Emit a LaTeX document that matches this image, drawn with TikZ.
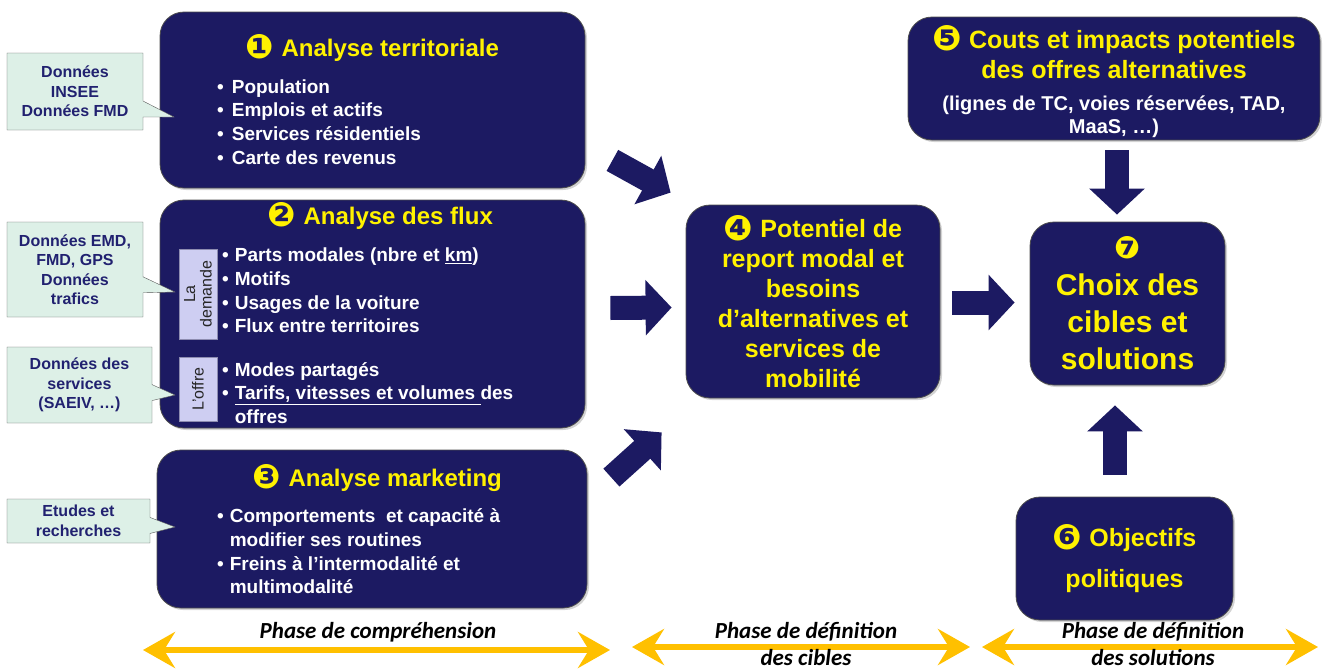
\documentclass[tikz,border=0pt]{standalone}
\usepackage{fontspec}
\setmainfont{Liberation Sans}
\newfontfamily\phasefont{Carlito}
\newfontfamily\dingfont{DejaVu Sans}
\usetikzlibrary{arrows.meta,positioning,calc,shapes.callouts,shadows}
\definecolor{navy}{RGB}{28,26,98}
\definecolor{mint}{RGB}{221,240,231}
\definecolor{srcblue}{RGB}{33,33,112}
\definecolor{lavender}{RGB}{206,206,242}
\definecolor{phase}{RGB}{255,192,0}
\newcommand{\fsz}[2]{\fontsize{#1}{#2}\selectfont}
\newcommand{\pastille}[1]{\raisebox{-0.1em}{\scalebox{1.4}{\dingfont\color{yellow}#1}}}

\begin{document}
\begin{tikzpicture}[x=1pt,y=-1pt,
  panel/.style={draw=black!70,line width=0.8pt,fill=navy,rounded corners=24pt,
    drop shadow={shadow xshift=2pt,shadow yshift=-2pt,opacity=0.35}},
  ptitle/.style={text=yellow,font=\bfseries\fsz{24}{30},align=center},
  plist/.style={anchor=west,text=white,font=\bfseries\fsz{19}{23.7},inner sep=0pt},
  source/.style={rectangle callout,draw=black!65,fill=mint,text=srcblue,
    font=\bfseries\fsz{16}{19.5},align=center,callout pointer width=16pt,inner sep=2pt},
  sidelabel/.style={draw=navy!50,fill=lavender,rotate=90,text=black!85,
    font=\fsz{16}{16.5},align=center,inner sep=1pt},
  blockarr/.style={navy,line width=24pt,-{Triangle[length=26pt,width=54pt]}},
  phasearr/.style={phase,line width=6pt,
    {Stealth[length=32pt,width=36pt,inset=11pt]}-{Stealth[length=32pt,width=36pt,inset=11pt]}},
  phaselbl/.style={font=\phasefont\bfseries\itshape\fsz{23}{27},align=center,inner sep=0pt}]
 \useasboundingbox (0,0) rectangle (1323,670);

 % les blocs
 \node[panel,minimum width=425pt,minimum height=176pt] (b1) at (372.5,100) {};
 \node[panel,minimum width=425pt,minimum height=228pt] (b2) at (372.5,314) {};
 \node[panel,minimum width=430pt,minimum height=158pt] (b3) at (372,529) {};
 \node[panel,minimum width=254pt,minimum height=193pt,text=yellow,
   font=\bfseries\fsz{25}{30},align=center] (b4) at (813,301.5)
   {\pastille{❹} Potentiel de\\report modal et\\besoins\\d’alternatives et\\services de\\mobilité};
 \node[panel,minimum width=412pt,minimum height=123pt] (b5) at (1114,78.5) {};
 \node[panel,minimum width=217pt,minimum height=123pt,text=yellow,
   font=\bfseries\fsz{25}{30},align=center] (b6) at (1124.5,558.5)
   {\pastille{❻} Objectifs\\[11pt]politiques};
 \node[panel,minimum width=195pt,minimum height=163pt,text=yellow,
   font=\bfseries\fsz{30}{37},align=center] (b7) at (1127.5,303.5)
   {{\fsz{22}{30}\pastille{❼}}\\[2pt]Choix des\\cibles et\\solutions};

 % contenus
 \node[ptitle] (t1) at (372,48) {\pastille{❶}\hspace{8pt}Analyse territoriale};
 \node[plist] (l1) at (217,124) {\begin{tabular}{@{}l@{\hspace{8pt}}l@{}}
   • & Population\\ • & Emplois et actifs\\ • & Services résidentiels\\ • & Carte des revenus
 \end{tabular}};
 \node[ptitle] (t2) at (380,216) {\pastille{❷}\hspace{8pt}Analyse des flux};
 \node[sidelabel,minimum width=90pt,minimum height=38pt] (dem) at (198,294) {La\\demande};
 \node[sidelabel,minimum width=64pt,minimum height=38pt] (off) at (198,389) {L'offre};
 \node[plist] (l2a) at (222,292.5) {\begin{tabular}{@{}l@{\hspace{6pt}}l@{}}
   • & Parts modales (nbre et \underline{km})\\ • & Motifs\\ • & Usages de la voiture\\ • & Flux entre territoires
 \end{tabular}};
 \node[plist] (l2b) at (222,395) {\begin{tabular}{@{}l@{\hspace{6pt}}l@{}}
   • & Modes partagés\\ • & \underline{Tarifs, vitesses et volumes\ }des\\ & offres
 \end{tabular}};
 \node[ptitle] (t3) at (377,478) {\pastille{❸}\hspace{8pt}Analyse marketing};
 \node[plist] (l3) at (217,553.5) {\begin{tabular}{@{}l@{\hspace{6pt}}l@{}}
   • & Comportements\ \ et capacité à\\ & modifier ses routines\\ • & Freins à l’intermodalité et\\ & multimodalité
 \end{tabular}};
 \node[ptitle,font=\bfseries\fsz{25}{30}] (t5) at (1114,52)
   {\pastille{❺} Couts et impacts potentiels\\des offres alternatives};
 \node[text=white,font=\bfseries\fsz{20}{23},align=center] (s5) at (1114,116.5)
   {(lignes de TC, voies réservées, TAD,\\MaaS, …)};

 % fleches
 \draw[blockarr] ($(b1.south east)+(27,-28)$) -- ($(b4.north west)+(-15,-12)$);
 \draw[blockarr] ($(b2.east)+(25,-6)$) -- ($(b4.west)+(-14,6)$);
 \draw[blockarr] ($(b3.north east)+(24,28)$) -- ($(b4.south west)+(-24,34)$);
 \draw[blockarr] ($(b4.east)+(12,1)$) -- ($(b7.west)+(-15,-1)$);
 \draw[blockarr] ($(b5.south)+(3,10)$) -- ($(b7.north)+(-10.5,-7)$);
 \draw[blockarr] ($(b6.north)+(-9.5,-22)$) -- ($(b7.south)+(-12.5,20)$);

 % sources
 \node[source,minimum width=136pt,minimum height=77pt,callout absolute pointer={(174,117)}]
   (src1) at (75,91.5) {Données\\INSEE\\Données FMD};
 \node[source,minimum width=136pt,minimum height=95pt,callout absolute pointer={(175,292)}]
   (src2) at (75,269.5) {Données EMD,\\FMD, GPS\\Données\\trafics};
 \node[source,minimum width=145pt,minimum height=76pt,callout absolute pointer={(175,395)}]
   (src3) at (79.5,385) {Données des\\services\\(SAEIV, …)};
 \node[source,minimum width=143pt,minimum height=44pt,callout absolute pointer={(175,527)}]
   (src4) at (78.5,521) {Etudes et\\recherches};

 % phases
 \coordinate (p1a) at (143,650);
 \coordinate (p1b) at (610,650);
 \coordinate (p2a) at (632,647);
 \coordinate (p2b) at (970,647);
 \coordinate (p3a) at (982,647);
 \coordinate (p3b) at (1318,647);
 \draw[phasearr] (p1a) -- (p1b);
 \draw[phasearr] (p2a) -- (p2b);
 \draw[phasearr] (p3a) -- (p3b);
 \node[phaselbl] (ph1) at (378,632) {Phase de compréhension};
 \node[phaselbl] (ph2) at (806,644) {Phase de définition\\des cibles};
 \node[phaselbl] (ph3) at (1153,644) {Phase de définition\\des solutions};
\end{tikzpicture}
\end{document}
